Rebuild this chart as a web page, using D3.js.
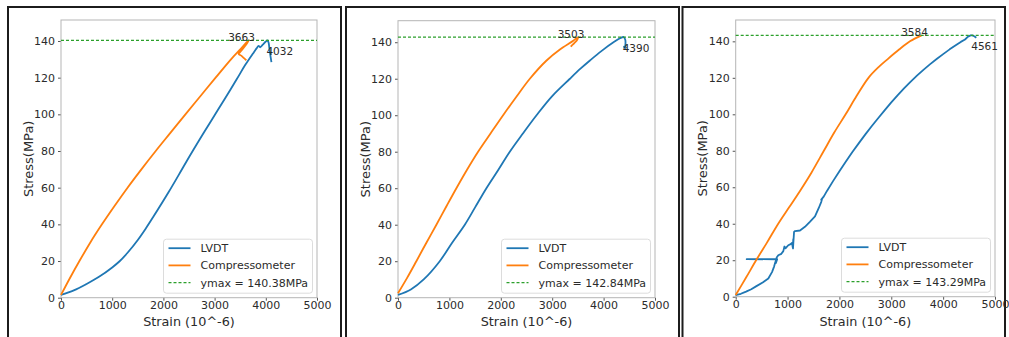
<!DOCTYPE html>
<html>
<head>
<meta charset="utf-8">
<script src="https://cdn.jsdelivr.net/npm/d3@7"></script>
<style>
  body { margin: 0; background: #fff; }
  svg { display: block; font-family: "DejaVu Sans", sans-serif; }
</style>
</head>
<body>
<svg width="1009" height="337"></svg>
<script>
// tick labels
const strainTicks = [0, 1000, 2000, 3000, 4000, 5000];
const stressTicks = [0, 20, 40, 60, 80, 100, 120, 140];
const seriesNames = ["LVDT", "Compressometer"];

// peak values per test
const ymaxValues = [140.38, 142.84, 143.29];
const peakCompress = [3663, 3503, 3584];
const peakLvdt = [4032, 4390, 4561];

// [strain, stress]
const lvdt1 = [[0,1.5],[250,4],[500,7.5],[750,11.5],[1000,16.5],[1150,20],[1300,24.5],[1500,31.5],[1650,37.5],[1800,44],[2100,57.5],[2300,67],[2540,78.5],[2800,90.5],[3000,99.5],[3200,108.5],[3440,119.5],[3600,127],[3750,133.2],[3820,136],[3860,137.3],[3890,136.6],[3940,138],[4000,139.7],[4032,140.38],[4055,139],[4070,136],[4090,132],[4110,128.5]];
const comp1 = [[0,1.5],[170,10.5],[360,20],[570,30],[800,40],[1045,50],[1300,60],[1570,70],[1850,80],[2140,90],[2430,100],[2725,110],[3020,120],[3320,130],[3520,136],[3663,140.38],[3640,139],[3580,136.8],[3500,134],[3470,133],[3520,132],[3580,130.5],[3620,129.5]];

const lvdt2 = [[0,1.5],[250,4.5],[500,10],[812,20],[1050,30],[1300,40],[1500,49.5],[1720,60],[1950,70],[2175,80],[2430,90],[2695,100],[3000,110.5],[3344,120],[3550,125.5],[3734,130],[3950,135],[4220,140.5],[4320,142.2],[4390,142.84],[4420,141.5],[4425,139],[4410,137],[4395,137.5],[4420,136.8],[4440,137.5]];
const comp2 = [[0,2.4],[180,11],[357,20],[550,30],[747,40],[940,50],[1136,60],[1340,70],[1558,80],[1800,90],[2045,100],[2300,110],[2565,120],[2890,130],[3150,136],[3409,140.8],[3503,142.84],[3490,141.5],[3430,139.5],[3380,138.2],[3360,137.6]];

const lvdt3 = [[0,0.9],[100,1.6],[200,2.8],[300,4.1],[400,5.8],[520,7.8],[629,10],[700,13.5],[740,16.5],[765,19],[785,20.5],[212,20.6],[800,20.6],[775,18.5],[790,21.5],[821,22.7],[880,23.5],[918,25],[940,27.5],[960,26.5],[1014,28.2],[1060,28.8],[1085,29.5],[1100,27],[1110,31.5],[1105,26.5],[1125,35.5],[1145,36],[1240,36.3],[1335,38.3],[1430,41],[1529,44],[1600,48.5],[1650,52],[1665,53.5],[1650,53.2],[1700,55],[1760,58],[1880,63.5],[2000,68.8],[2125,74.1],[2250,79.3],[2375,84.2],[2500,89],[2625,93.6],[2750,98],[2875,102.3],[3000,106.5],[3125,110.5],[3250,114.3],[3375,117.9],[3500,121.3],[3625,124.5],[3750,127.5],[3875,130.3],[4000,133],[4125,135.6],[4250,138],[4340,139.7],[4422,141],[4480,142.6],[4530,143.29],[4561,143.29],[4600,142.8],[4640,142]];
const comp3 = [[0,0.9],[200,10.5],[405,20.5],[600,29.5],[820,40],[1030,49],[1240,58],[1460,68],[1700,80],[1900,90],[2120,100],[2330,110],[2560,120],[2760,126],[2920,130],[3150,135.5],[3360,140],[3584,143.29]];

const lvdtSets = [lvdt1, lvdt2, lvdt3];
const compSets = [comp1, comp2, comp3];

// panel layout (pixels)
const panels = [
  { frame: [8, 341], left: 61, right: 317, top: 20, bottom: 297.7, yTop: 151.45 },
  { frame: [346, 679], left: 398, right: 655, top: 20.7, bottom: 297.7, yTop: 151.8 },
  { frame: [682.5, 1005], left: 735.7, right: 995, top: 20, bottom: 296.7, yTop: 151.7 }
];

const colors = { lvdt: "#1f77b4", comp: "#ff7f0e", ymax: "#2ca02c" };
const textColor = "#2b2b2b";

const svg = d3.select("svg");

panels.forEach((p, i) => {
  const g = svg.append("g");

  // black frame round each picture
  g.append("path")
    .attr("d", `M${p.frame[0]},337 V7 H${p.frame[1]} V337`)
    .attr("fill", "none")
    .attr("stroke", "#1c1c1c")
    .attr("stroke-width", 2);

  const x = d3.scaleLinear().domain([0, 5000]).range([p.left, p.right]);
  const y = d3.scaleLinear().domain([0, p.yTop]).range([p.bottom, p.top]);

  // axes
  const xAxis = g.append("g")
    .attr("transform", `translate(0,${p.bottom})`)
    .call(d3.axisBottom(x).tickValues(strainTicks).tickSize(3).tickPadding(1).tickFormat(d3.format("d")));
  const yAxis = g.append("g")
    .attr("transform", `translate(${p.left},0)`)
    .call(d3.axisLeft(y).tickValues(stressTicks).tickSize(3).tickPadding(3).tickFormat(d3.format("d")));

  [xAxis, yAxis].forEach(a => {
    a.select(".domain").remove();
    a.selectAll(".tick line").attr("stroke", "#555");
    a.selectAll(".tick text")
      .attr("fill", textColor)
      .style("font-size", "11px")
      .style("font-family", "DejaVu Sans");
  });

  // spines
  g.append("rect")
    .attr("x", p.left).attr("y", p.top)
    .attr("width", p.right - p.left).attr("height", p.bottom - p.top)
    .attr("fill", "none")
    .attr("stroke", "#b5b5b5")
    .attr("stroke-width", 1);

  const smooth = d3.line()
    .x(d => x(d[0]))
    .y(d => y(d[1]))
    .curve(d3.curveCatmullRom.alpha(0.5));
  // third LVDT trace has sharp glitches, keep it straight-segmented
  const straight = d3.line()
    .x(d => x(d[0]))
    .y(d => y(d[1]));

  g.append("path")
    .datum(lvdtSets[i])
    .attr("d", i === 2 ? straight : smooth)
    .attr("fill", "none")
    .attr("stroke", colors.lvdt)
    .attr("stroke-width", 1.8)
    .attr("stroke-linejoin", "round");

  g.append("path")
    .datum(compSets[i])
    .attr("d", smooth)
    .attr("fill", "none")
    .attr("stroke", colors.comp)
    .attr("stroke-width", 1.8)
    .attr("stroke-linejoin", "round");

  // ymax line
  g.append("line")
    .attr("x1", p.left).attr("x2", p.right)
    .attr("y1", y(ymaxValues[i])).attr("y2", y(ymaxValues[i]))
    .attr("stroke", colors.ymax)
    .attr("stroke-width", 1.3)
    .attr("stroke-dasharray", "3,2");

  // peak strain notes
  g.append("text")
    .attr("x", x(peakCompress[i]) - 7)
    .attr("y", y(ymaxValues[i]) + 0.5)
    .attr("text-anchor", "middle")
    .attr("fill", textColor)
    .style("font-size", "10.5px")
    .text(peakCompress[i]);

  g.append("text")
    .attr("x", x(peakLvdt[i]) - 1)
    .attr("y", y(ymaxValues[i]) + 15)
    .attr("fill", textColor)
    .style("font-size", "10.5px")
    .text(peakLvdt[i]);

  // axis titles
  g.append("text")
    .attr("x", (p.left + p.right) / 2)
    .attr("y", 325.5)
    .attr("text-anchor", "middle")
    .attr("fill", textColor)
    .style("font-size", "12.8px")
    .text("Strain (10^-6)");

  g.append("text")
    .attr("transform", `translate(${p.left - 28.5},${(p.top + p.bottom) / 2}) rotate(-90)`)
    .attr("text-anchor", "middle")
    .attr("fill", textColor)
    .style("font-size", "13px")
    .text("Stress(MPa)");

  // legend
  const lw = 149, lh = 54;
  const lg = g.append("g")
    .attr("transform", `translate(${p.right - 4.5 - lw},${p.bottom - 4.5 - lh})`);
  lg.append("rect")
    .attr("width", lw).attr("height", lh)
    .attr("rx", 3)
    .attr("fill", "#fff").attr("fill-opacity", 0.85)
    .attr("stroke", "#dcdcdc");

  const entries = [
    { name: seriesNames[0], color: colors.lvdt, dash: null },
    { name: seriesNames[1], color: colors.comp, dash: null },
    { name: `ymax = ${ymaxValues[i].toFixed(2)}MPa`, color: colors.ymax, dash: "3,2" }
  ];
  entries.forEach((e, k) => {
    const cy = 9 + k * 17.2;
    lg.append("line")
      .attr("x1", 5).attr("x2", 27)
      .attr("y1", cy).attr("y2", cy)
      .attr("stroke", e.color)
      .attr("stroke-width", e.dash ? 1.3 : 1.8)
      .attr("stroke-dasharray", e.dash);
    lg.append("text")
      .attr("x", 37)
      .attr("y", cy + 4)
      .attr("fill", textColor)
      .style("font-size", "11px")
      .text(e.name);
  });
});
</script>
</body>
</html>
